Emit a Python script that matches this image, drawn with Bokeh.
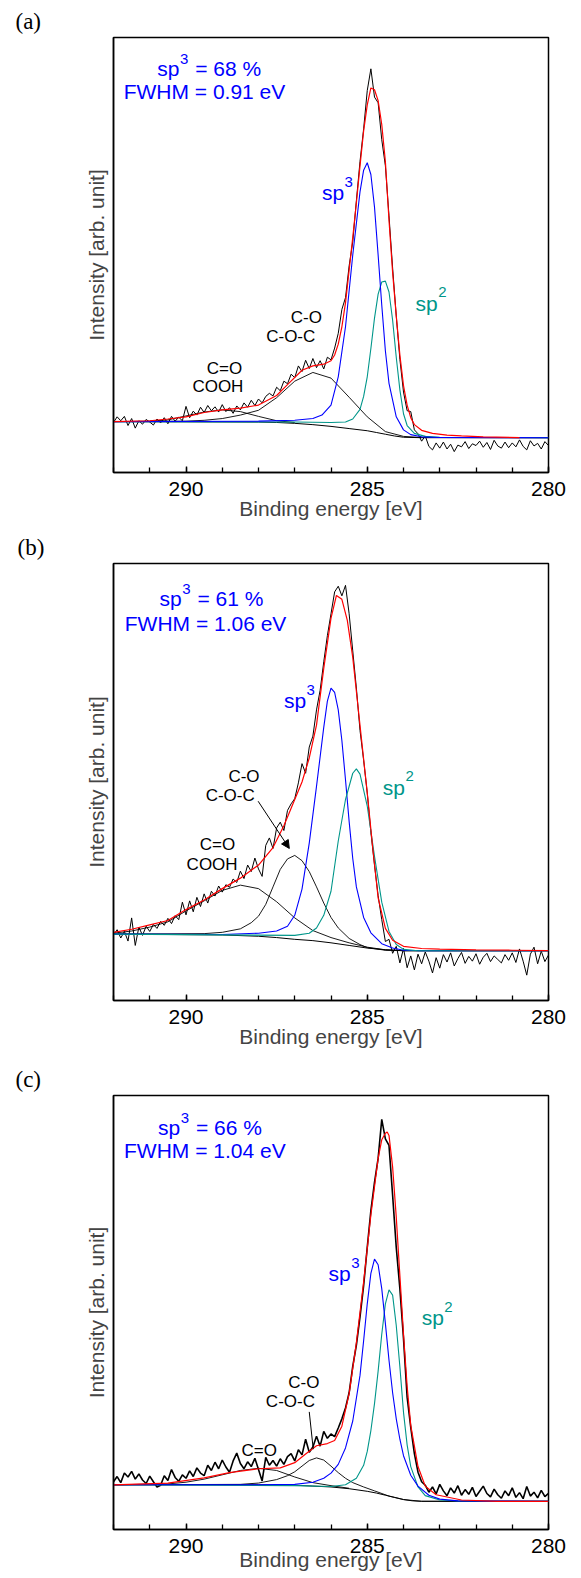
import numpy as np
from bokeh.plotting import figure
from bokeh.layouts import column
from bokeh.models import Range1d, FixedTicker, Label, Arrow, NormalHead
from bokeh.embed import file_html
from bokeh.resources import INLINE

# ---------------- data (intensity in % of panel height, energy in eV) -------------
RAW_START = 292.0
RAW_STEP = 0.1

# ---- panel (a)
raw_a = [11.5, 12.8, 11.9, 12.9, 10.8, 12.4, 10.2, 11.9, 11.1, 12.2,
         11.6, 10.9, 12.3, 11.4, 12.6, 11.2, 12.9, 11.8, 12.7, 11.9,
         15.2, 12.6, 14.1, 13.2, 15.0, 13.8, 15.4, 14.2, 15.1, 13.9,
         15.6, 14.0, 14.9, 13.6, 15.3, 14.4, 16.0, 15.0, 16.6, 15.4,
         16.9, 16.0, 17.5, 18.2, 17.6, 19.6, 18.8, 21.0, 20.4, 22.6,
         21.8, 24.5, 23.2, 25.8, 23.9, 26.2, 24.1, 25.7, 23.8, 26.5,
         25.9, 28.6, 32.0, 37.5, 40.2, 47.5, 53.0, 62.5, 71.5, 79.0,
         87.8, 92.8, 86.3, 85.0, 76.5, 70.5, 59.0, 47.0, 36.0, 26.0,
         18.5, 14.2, 14.0, 9.8, 8.9, 7.2, 8.4, 6.0, 5.2, 6.8,
         5.6, 7.0, 5.4, 6.5, 4.8, 6.3, 5.9, 7.1, 5.5, 6.6,
         6.2, 7.2, 5.8, 6.9, 5.3, 7.4, 6.1, 5.6, 7.0, 5.7,
         6.8, 5.9, 7.5, 6.0, 5.2, 7.3, 6.1, 6.7, 5.4, 7.1,
         6.2]
fit_a_e = [292, 291, 290.5, 290, 289.5, 289, 288.5, 288, 287.5, 287.2, 286.8, 286.5,
           286.2, 286.0, 285.9, 285.8, 285.7, 285.6, 285.5, 285.4, 285.3, 285.2, 285.1,
           285.0, 284.9, 284.8, 284.7, 284.6, 284.5, 284.4, 284.3, 284.2, 284.1, 284.0,
           283.9, 283.8, 283.7, 283.5, 283.2, 282.8, 282.4, 281.8, 280.8]
fit_a = [11.7, 11.9, 12.3, 12.8, 13.8, 14.4, 14.8, 15.5, 17.7, 20.2,
         23.5, 24.5, 24.9, 25.7, 27.0, 29.5, 33.5, 39.0, 46.5, 54.0,
         62.0, 70.5, 78.5, 84.5, 88.4, 88.0, 85.5, 80.0, 71.5, 58.0,
         46.0, 36.0, 27.0, 20.0, 15.5, 12.6, 11.0, 9.7, 9.0, 8.6,
         8.4, 8.2, 8.0]
bg_a_e = [292, 288, 287.5, 287, 286.5, 286, 285.5, 285, 284.75, 284.5, 284.25, 284, 283.5, 280]
bg_a = [11.7, 11.6, 11.5, 11.3, 11.0, 10.6, 10.1, 9.6, 9.2, 8.8, 8.4, 8.1, 8.0, 8.0]
sp3_a_e = [292, 288, 287, 286.5, 286.25, 286.0, 285.8, 285.6, 285.4, 285.2, 285.1, 285.0,
           284.9, 284.8, 284.7, 284.6, 284.5, 284.4, 284.2, 284.0, 283.8, 283.5, 283.0, 280]
sp3_a = [11.7, 11.8, 12.0, 12.4, 13.2, 15.5, 22.0, 33.5, 50.0, 64.5, 69.5, 71.2,
         68.5, 61.0, 50.0, 38.5, 28.0, 20.5, 12.8, 9.8, 8.7, 8.2, 8.05, 8.0]
sp2_a_e = [292, 287, 286, 285.6, 285.4, 285.2, 285.1, 285.0, 284.9, 284.8, 284.7, 284.6,
           284.5, 284.4, 284.3, 284.2, 284.1, 284.0, 283.9, 283.7, 283.4, 283.0, 280]
sp2_a = [11.7, 11.6, 11.5, 11.6, 12.3, 14.5, 17.5, 22.0, 28.5, 35.5, 41.0, 43.8,
         44.0, 41.5, 35.0, 26.5, 19.0, 13.5, 10.8, 9.0, 8.3, 8.1, 8.0]
co_a_e = [292, 290, 289.5, 289, 288.5, 288, 287.5, 287, 286.5, 286, 285.5, 285, 284.5, 284, 283.5, 280]
co_a = [11.7, 11.8, 12.0, 12.4, 13.2, 14.3, 17.2, 21.0, 23.0, 21.7, 17.3, 12.8, 9.4, 8.3, 8.05, 8.0]
cdo_a_e = [292, 291, 290.5, 290, 289.5, 289, 288.5, 288, 287.5, 287]
cdo_a = [11.7, 11.75, 12.1, 13.0, 13.9, 14.4, 14.0, 12.9, 11.9, 11.5]

# ---- panel (b)
raw_b = [15.0, 16.2, 14.3, 15.8, 13.6, 18.9, 12.6, 16.8, 14.9, 17.0,
         15.8, 17.4, 16.5, 18.1, 17.2, 18.8, 17.6, 19.4, 18.5, 22.5,
         19.6, 22.8, 20.3, 23.6, 21.5, 24.4, 22.3, 25.0, 23.9, 26.2,
         24.8, 26.5, 25.9, 27.8, 27.0, 29.6, 27.9, 31.0, 29.5, 32.6,
         30.1, 28.4, 35.5, 37.2, 34.8, 39.5, 40.8, 38.9, 43.5, 45.0,
         46.2, 49.8, 54.2, 52.0, 58.0, 60.5, 66.5, 71.0, 77.5, 83.5,
         88.5, 93.5, 94.8, 92.6, 95.0, 88.5, 80.0, 71.5, 61.8, 55.0,
         47.5, 38.5, 31.0, 24.0, 18.5, 13.5, 14.0, 10.8, 12.4, 8.6,
         11.9, 7.5, 10.2, 7.0, 10.6, 8.4, 11.1, 9.0, 6.3, 9.8,
         7.4, 10.5, 8.8, 10.9, 7.9, 9.6, 11.0, 8.5, 10.1, 9.0,
         10.7, 8.3, 9.9, 10.8, 8.9, 10.2, 9.4, 8.6, 10.5, 9.2,
         10.9, 8.7, 11.8, 9.0, 5.8, 10.6, 12.2, 8.4, 11.3, 8.9,
         10.4]
fit_b_e = [292, 291.5, 291, 290.5, 290, 289.5, 289, 288.5, 288, 287.6, 287.3, 287.0,
           286.8, 286.6, 286.4, 286.2, 286.0, 285.85, 285.7, 285.55, 285.4, 285.2, 285.0,
           284.85, 284.7, 284.5, 284.3, 284.0, 283.5, 283, 282, 281, 280]
fit_b = [15.6, 16.3, 17.3, 18.3, 20.8, 23.0, 25.6, 28.0, 31.0, 35.0, 40.0, 46.0,
         50.0, 55.5, 63.0, 76.0, 87.5, 92.7, 91.8, 87.0, 78.5, 63.0, 47.5,
         35.0, 23.5, 16.5, 13.8, 12.4, 11.9, 11.75, 11.6, 11.5, 11.4]
bg_b_e = [292, 289, 288, 287.5, 287, 286.5, 286, 285.5, 285, 284.5, 284, 283.5, 280]
bg_b = [15.2, 15.0, 14.7, 14.4, 14.0, 13.7, 13.2, 12.6, 12.0, 11.6, 11.4, 11.4, 11.4]
sp3_b_e = [292, 289, 288, 287.5, 287.2, 287.0, 286.8, 286.6, 286.4, 286.2, 286.1, 286.0,
           285.9, 285.8, 285.7, 285.6, 285.5, 285.4, 285.3, 285.1, 284.9, 284.6, 284.3,
           284.0, 283.5, 280]
sp3_b = [15.2, 15.1, 15.4, 15.9, 17.0, 19.5, 25.5, 36.0, 49.0, 62.5, 68.5, 71.5,
         70.5, 66.5, 59.5, 50.5, 41.0, 32.5, 26.0, 19.0, 15.5, 13.0, 12.0,
         11.5, 11.4, 11.4]
sp2_b_e = [292, 287, 286.6, 286.4, 286.2, 286.0, 285.8, 285.6, 285.4, 285.3, 285.2, 285.0,
           284.8, 284.6, 284.4, 284.2, 284.0, 283.6, 280]
sp2_b = [15.2, 14.9, 15.4, 16.6, 19.5, 25.0, 36.5, 46.0, 52.0, 53.0, 51.8, 44.5,
         33.0, 22.5, 15.8, 12.8, 11.7, 11.4, 11.4]
co_b_e = [292, 289.5, 289, 288.5, 288.2, 288, 287.8, 287.6, 287.4, 287.2, 287.0, 286.8,
          286.6, 286.4, 286.2, 286.0, 285.8, 285.5, 285.2, 285.0, 284.5, 284, 280]
co_b = [15.2, 15.3, 15.6, 16.4, 17.8, 19.3, 22.0, 26.0, 30.0, 32.4, 33.2, 32.0,
        29.5, 26.0, 22.3, 19.0, 16.6, 14.2, 12.8, 12.1, 11.5, 11.4, 11.4]
cdo_b_e = [292, 291.5, 291, 290.5, 290, 289.5, 289, 288.5, 288, 287.5, 287, 286.5,
           286, 285.5, 285, 284.5, 284, 280]
cdo_b = [15.4, 15.9, 16.8, 18.0, 20.5, 22.8, 25.2, 26.4, 25.6, 22.6, 18.9, 16.0,
         14.4, 13.2, 12.2, 11.6, 11.4, 11.4]

# ---- panel (c)
raw_c = [11.0, 12.2, 10.8, 13.0, 12.1, 13.4, 11.6, 12.8, 11.4, 10.6,
         12.3, 11.0, 9.8, 10.2, 12.4, 11.3, 13.8, 12.0, 11.1, 12.6,
         11.8, 13.5, 12.2, 14.2, 13.0, 12.4, 14.8, 13.6, 15.5, 14.0,
         16.0, 14.4, 13.2, 15.8, 17.6, 15.2, 14.0, 15.6, 14.5, 16.4,
         13.8, 11.2, 16.6, 14.8, 15.9, 14.6, 16.3, 15.0, 16.8, 17.5,
         15.8, 18.4, 17.2, 20.8, 17.8, 19.0, 21.5, 19.2, 22.6, 21.0,
         22.0, 21.4, 23.4, 25.5, 28.0, 31.5, 37.6, 42.5, 49.0, 56.2,
         65.0, 73.5, 80.0, 85.5, 94.5, 90.0, 88.5, 77.0, 65.0, 55.5,
         44.0, 30.5, 23.5, 17.5, 13.2, 11.0, 10.2, 8.6, 9.8, 8.2,
         10.4, 8.9, 7.8, 9.6, 8.4, 10.1, 7.9, 9.2, 8.1, 9.7,
         7.6, 8.8, 10.0, 8.3, 7.5, 9.3, 8.0, 7.2, 8.9, 7.8,
         9.6, 7.4, 8.5, 7.1, 9.9, 7.7, 8.6, 7.3, 9.0, 7.6,
         8.3]
fit_c_e = [292, 290.5, 289.5, 288.8, 288.0, 287.4, 287.0, 286.7, 286.4, 286.1,
           285.9, 285.7, 285.5, 285.3, 285.1, 284.9, 284.7, 284.6, 284.5, 284.45,
           284.4, 284.3, 284.2, 284.1, 284.0, 283.9, 283.8, 283.6, 283.4, 283.1,
           282.4, 281.4, 280]
fit_c = [10.3, 10.7, 11.9, 13.1, 14.0, 14.2, 15.4, 17.4, 19.3, 19.8,
         20.5, 23.8, 31.3, 43.0, 57.0, 72.5, 85.5, 89.8, 91.3, 91.6,
         90.8, 83.5, 72.0, 58.5, 45.0, 33.0, 24.0, 14.5, 10.0, 8.0,
         6.8, 6.5, 6.5]
bg_c_e = [292, 288, 287, 286.5, 286, 285.5, 285.0, 284.75, 284.5, 284.25, 284.0, 283.75, 283.5, 280]
bg_c = [10.3, 10.3, 10.2, 10.0, 9.8, 9.4, 8.8, 8.4, 7.9, 7.4, 6.9, 6.6, 6.5, 6.5]
sp3_c_e = [292, 288, 287, 286.5, 286.2, 286.0, 285.8, 285.6, 285.4, 285.2, 285.1, 285.0,
           284.9, 284.8, 284.7, 284.6, 284.5, 284.4, 284.3, 284.2, 284.1, 284.0,
           283.8, 283.6, 283.3, 283.0, 282.5, 280]
sp3_c = [10.3, 10.3, 10.4, 10.9, 11.8, 13.0, 15.0, 18.8, 25.0, 35.5, 43.5, 52.0,
         59.0, 62.3, 61.0, 55.5, 47.5, 39.0, 31.5, 25.5, 20.8, 17.0,
         12.5, 10.0, 7.9, 7.0, 6.6, 6.5]
sp2_c_e = [292, 287, 286, 285.6, 285.3, 285.1, 285.0, 284.9, 284.8, 284.7, 284.6, 284.5,
           284.4, 284.3, 284.2, 284.1, 284.0, 283.9, 283.8, 283.6, 283.4, 283.0, 282.5, 280]
sp2_c = [10.3, 10.1, 9.9, 10.3, 11.8, 14.8, 18.0, 22.8, 29.0, 36.5, 45.0, 52.0,
         55.2, 54.0, 47.0, 37.5, 27.0, 19.5, 14.5, 9.8, 7.8, 6.8, 6.55, 6.5]
co_c_e = [292, 288.5, 288, 287.5, 287.2, 287.0, 286.8, 286.6, 286.4, 286.2, 286.0,
          285.8, 285.6, 285.4, 285.1, 284.8, 284.4, 284, 283.5, 280]
co_c = [10.3, 10.4, 10.7, 11.5, 12.4, 13.3, 14.6, 15.9, 16.5, 16.0, 14.6,
        13.1, 11.8, 10.8, 9.8, 8.9, 7.7, 6.9, 6.5, 6.5]
cdo_c_e = [292, 290.5, 290, 289.5, 289, 288.5, 288, 287.5, 287, 286.5, 286, 285.5]
cdo_c = [10.3, 10.5, 10.9, 11.6, 12.6, 13.6, 14.1, 13.6, 12.1, 10.8, 10.1, 9.5]

major_ticks = [280, 285, 290]
minor_ticks = list(range(280, 293))
sp3_text = ["= 68 %", "= 61 %", "= 66 %"]
fwhm_text = ["FWHM = 0.91 eV", "FWHM = 1.06 eV", "FWHM = 1.04 eV"]
tags = ["(a)", "(b)", "(c)"]

# ---------------- styling ----------------
FONT = "Liberation Sans"
SERIF = "Liberation Serif"
BLUE = "#0000FF"
TEAL = "#00968A"
RED = "#FF0000"
BLACK = "#000000"


def lab(p, x, y, text, color=BLACK, size=21, align="left", baseline="alphabetic",
        xoff=0, font=FONT):
    p.add_layout(Label(x=x, y=y, x_offset=xoff, text=text, text_color=color,
                       text_font=font, text_font_size=f"{size}px",
                       text_align=align, text_baseline=baseline))


def sp_lab(p, x, y, sup, rest, color, ppy, size=21, sup_size=15, raise_px=10):
    lab(p, x, y, "sp", color, size)
    w = 1.056 * size
    lab(p, x, y + raise_px / ppy, sup, color, sup_size, xoff=w + 0.5)
    if rest:
        lab(p, x, y, rest, color, size, xoff=w + 0.556 * sup_size + 0.278 * size + 1.5)


def panel(height, left, top, bottom, tag, tag_off, xl_standoff, raw, raw_w, curves):
    p = figure(width=573, height=height, x_range=Range1d(292, 280), y_range=Range1d(0, 100),
               output_backend="svg", toolbar_location=None,
               min_border_left=left, min_border_right=25,
               min_border_top=top, min_border_bottom=bottom)
    p.xgrid.visible = False
    p.ygrid.visible = False
    p.outline_line_color = BLACK
    p.outline_line_width = 1.5
    p.background_fill_color = "white"
    p.border_fill_color = "white"

    p.title.text = tag
    p.title.text_font = SERIF
    p.title.text_font_size = "23px"
    p.title.text_font_style = "normal"
    p.title.text_color = BLACK
    p.title.align = "left"
    p.title.offset = tag_off
    p.title.standoff = 8

    xa = p.xaxis[0]
    xa.ticker = FixedTicker(ticks=major_ticks, minor_ticks=minor_ticks)
    xa.major_tick_in = 6
    xa.major_tick_out = 0
    xa.minor_tick_in = 5
    xa.minor_tick_out = 0
    xa.major_tick_line_width = 1.4
    xa.minor_tick_line_width = 1.3
    xa.axis_line_width = 1.5
    xa.major_label_text_font = FONT
    xa.major_label_text_font_size = "21px"
    xa.major_label_text_color = BLACK
    xa.major_label_standoff = 9
    xa.axis_label = "Binding energy [eV]"
    xa.axis_label_text_font = FONT
    xa.axis_label_text_font_size = "21px"
    xa.axis_label_text_font_style = "normal"
    xa.axis_label_standoff = xl_standoff

    ya = p.yaxis[0]
    ya.ticker = FixedTicker(ticks=[])
    ya.major_tick_line_color = None
    ya.minor_tick_line_color = None
    ya.axis_line_width = 1.5
    ya.major_label_standoff = 0
    ya.axis_label = "Intensity [arb. unit]"
    ya.axis_label_text_font = FONT
    ya.axis_label_text_font_size = "21px"
    ya.axis_label_text_font_style = "normal"
    ya.axis_label_standoff = 6

    e_raw = RAW_START - RAW_STEP * np.arange(len(raw))
    p.line(e_raw, raw, line_color=BLACK, line_width=raw_w)
    for (xe, yv, col, lw) in curves:
        p.line(xe, yv, line_color=col, line_width=lw)
    return p


# ---------------- panel (a) ----------------
pa = panel(528, 113, 37, 56, tags[0], -98, -2, raw_a, 1.0,
           [(bg_a_e, bg_a, BLACK, 1.0), (cdo_a_e, cdo_a, BLACK, 0.9), (co_a_e, co_a, BLACK, 0.9),
            (sp2_a_e, sp2_a, TEAL, 1.1), (sp3_a_e, sp3_a, BLUE, 1.1), (fit_a_e, fit_a, RED, 1.2)])
ppy_a = 4.35
sp_lab(pa, 290.79, 92.9, "3", sp3_text[0], BLUE, ppy_a, raise_px=9.5)
lab(pa, 291.72, 87.6, fwhm_text[0], BLUE)
sp_lab(pa, 286.25, 64.3, "3", "", BLUE, ppy_a, raise_px=11)
sp_lab(pa, 283.67, 38.9, "2", "", TEAL, ppy_a, raise_px=11)
lab(pa, 286.68, 35.6, "C-O", size=17, align="center", baseline="middle")
lab(pa, 287.11, 31.3, "C-O-C", size=17, align="center", baseline="middle")
lab(pa, 288.94, 24.0, "C=O", size=17, align="center", baseline="middle")
lab(pa, 289.12, 19.8, "COOH", size=17, align="center", baseline="middle")

# ---------------- panel (b) ----------------
pb = panel(530, 110, 33, 58, tags[1], -96, -2, raw_b, 1.0,
           [(bg_b_e, bg_b, BLACK, 1.0), (cdo_b_e, cdo_b, BLACK, 0.9), (co_b_e, co_b, BLACK, 0.9),
            (sp3_b_e, sp3_b, BLUE, 1.1), (sp2_b_e, sp2_b, TEAL, 1.1), (fit_b_e, fit_b, RED, 1.2)])
ppy_b = 4.39
sp_lab(pb, 290.73, 91.9, "3", sp3_text[1], BLUE, ppy_b, raise_px=9.5)
lab(pb, 291.69, 86.2, fwhm_text[1], BLUE)
sp_lab(pb, 287.30, 68.6, "3", "", BLUE, ppy_b, raise_px=11)
sp_lab(pb, 284.57, 48.8, "2", "", TEAL, ppy_b, raise_px=11)
lab(pb, 288.40, 51.3, "C-O", size=17, align="center", baseline="middle")
lab(pb, 288.78, 47.0, "C-O-C", size=17, align="center", baseline="middle")
lab(pb, 289.13, 35.8, "C=O", size=17, align="center", baseline="middle")
lab(pb, 289.28, 31.1, "COOH", size=17, align="center", baseline="middle")
pb.add_layout(Arrow(end=NormalHead(size=8, fill_color=BLACK, line_color=BLACK, line_width=1),
                    x_start=288.01, y_start=45.6, x_end=287.15, y_end=34.8,
                    line_color=BLACK, line_width=1))

# ---------------- panel (c) ----------------
pc = panel(520, 113, 37, 49, tags[2], -98, -8, raw_c, 1.6,
           [(bg_c_e, bg_c, BLACK, 1.0), (cdo_c_e, cdo_c, BLACK, 0.9), (co_c_e, co_c, BLACK, 0.9),
            (sp2_c_e, sp2_c, TEAL, 1.1), (sp3_c_e, sp3_c, BLUE, 1.1), (fit_c_e, fit_c, RED, 1.2)])
ppy_c = 4.34
sp_lab(pc, 290.77, 92.6, "3", sp3_text[2], BLUE, ppy_c, raise_px=9.5)
lab(pc, 291.71, 87.3, fwhm_text[2], BLUE)
sp_lab(pc, 286.07, 58.9, "3", "", BLUE, ppy_c, raise_px=11)
sp_lab(pc, 283.50, 48.8, "2", "", TEAL, ppy_c, raise_px=11)
lab(pc, 286.75, 33.9, "C-O", size=17, align="center", baseline="middle")
lab(pc, 287.12, 29.6, "C-O-C", size=17, align="center", baseline="middle")
lab(pc, 287.98, 18.3, "C=O", size=17, align="center", baseline="middle")
pc.add_layout(Arrow(end=None, x_start=286.60, y_start=27.1, x_end=286.49, y_end=18.5,
                    line_color=BLACK, line_width=1))

layout = column(pa, pb, pc, spacing=0)
open("out.html", "w").write(file_html(layout, INLINE))
